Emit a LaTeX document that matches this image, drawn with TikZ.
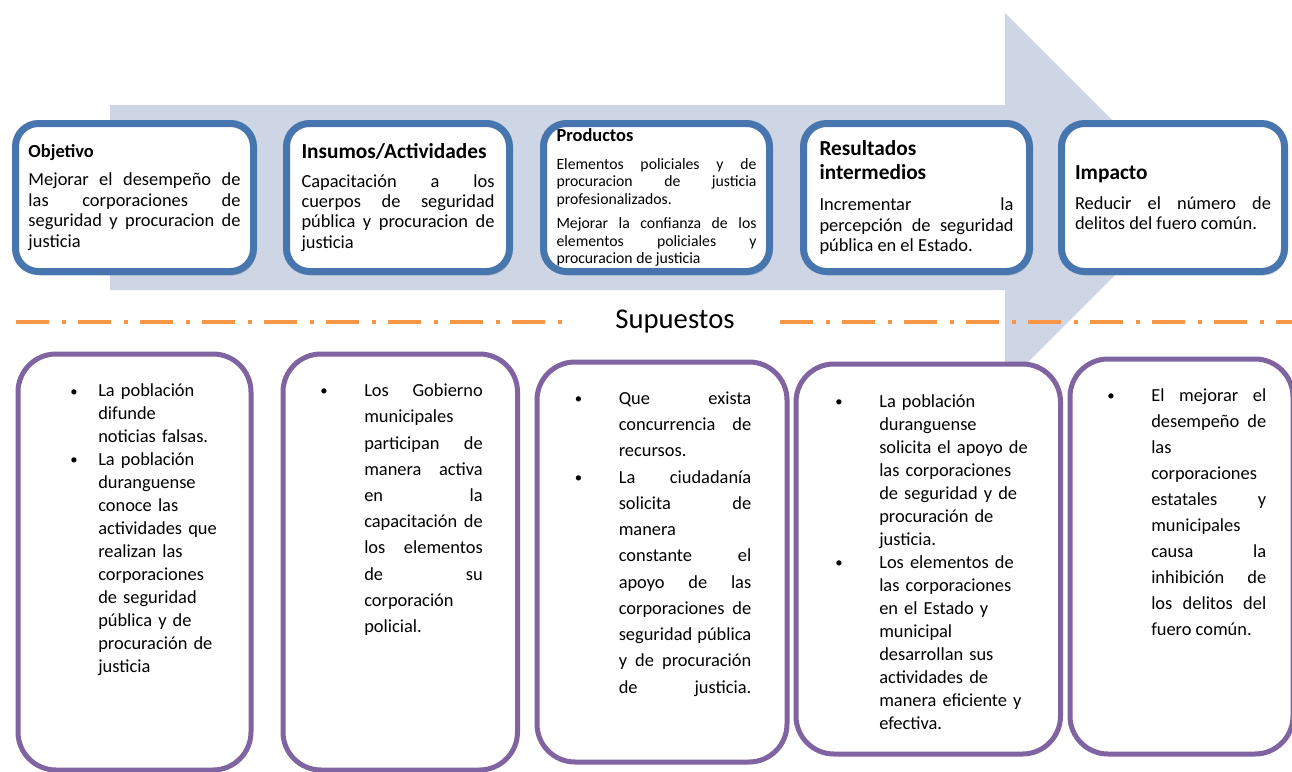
\documentclass[tikz,border=0pt]{standalone}
\usepackage{fontspec}
\setmainfont{Carlito}
\usepackage{tikz}
\usetikzlibrary{shadows}
\usepackage{xcolor}
\definecolor{boxblue}{HTML}{4775AE}
\definecolor{boxpurple}{HTML}{8064A2}
\definecolor{lineorange}{HTML}{F79646}
\definecolor{arrowgray}{HTML}{CED6E6}
\newlength\pxu
\setlength\pxu{0.75pt}
\newcommand\bul[1][33pt]{\leavevmode\llap{\makebox[#1][l]{\raisebox{0.6pt}{\scalebox{0.8}{\textbullet}}}}}

\begin{document}
\begin{tikzpicture}[
  x=0.75pt, y=-0.75pt,
  topbox/.style={
    draw=boxblue,
    fill=white,
    line width=7\pxu,
    rounded corners=23\pxu,
    minimum height=148\pxu,
    inner sep=0pt,
    align=justify,
    font=\fontsize{13.8pt}{15.3pt}\selectfont,
    drop shadow={shadow xshift=1.5pt, shadow yshift=-3pt, opacity=0.3}
  },
  botbox/.style={
    draw=boxpurple,
    fill=white,
    line width=5\pxu,
    rounded corners=38\pxu,
    inner sep=0pt,
    anchor=north west
  },
  bultext/.style={
    anchor=north west,
    inner sep=0pt
  },
  supline/.style={
    draw=lineorange,
    line width=4\pxu,
    dash pattern=on 24.75pt off 9.75pt on 3pt off 9pt
  }
]
  \useasboundingbox (0,0) rectangle (1292,771);

  % -------------------------------------------------------------
  % BACKGROUND ARROW
  % -------------------------------------------------------------
  \fill[arrowgray] (110,105) -- (1005,105) -- (1005,13) -- (1191,199)
    -- (1005,385) -- (1005,290) -- (110,290) -- cycle;

  % -------------------------------------------------------------
  % TOP ROW: CHAIN OF RESULTS
  % -------------------------------------------------------------

  % Objetivo
  \node[topbox, minimum width=238\pxu, text width=212\pxu] (obj) at (134.5,197.5) {
    {\bfseries Objetivo\par}\vspace{6pt}
    Mejorar el desempeño de\linebreak las corporaciones de\linebreak
    seguridad y procuracion de\linebreak justicia
  };

  % Insumos/Actividades
  \node[topbox, minimum width=223\pxu, text width=193\pxu] (ins) at (398,197.5) {
    {\fontsize{16pt}{18pt}\selectfont\bfseries Insumos/Actividades\par}\vspace{6.2pt}
    Capacitación a los\linebreak cuerpos de seguridad\linebreak
    pública y procuracion de\linebreak justicia
  };

  % Productos
  \node[topbox, minimum width=226\pxu, text width=200\pxu] (prod) at (656.5,197.5) {
    {\bfseries Productos\par}\vspace{7.7pt}
    {\fontsize{11.8pt}{13.05pt}\selectfont
    Elementos policiales y de\linebreak procuracion de justicia\linebreak
    profesionalizados.\par}\vspace{5.2pt}
    {\fontsize{11.8pt}{13.05pt}\selectfont
    Mejorar la confianza de los\linebreak elementos policiales y\linebreak
    procuracion de justicia\par}
  };

  % Resultados intermedios
  \node[topbox, minimum width=226\pxu, text width=194\pxu] (res) at (916.5,197.5) {
    {\fontsize{16pt}{18pt}\selectfont\bfseries Resultados\\intermedios\par}\vspace{8.5pt}
    Incrementar la\linebreak percepción de seguridad\linebreak
    pública en el Estado.
  };

  % Impacto
  \node[topbox, minimum width=223\pxu, text width=196\pxu] (imp) at (1173,197.5) {
    {\fontsize{16pt}{18pt}\selectfont\bfseries Impacto\par}\vspace{7.2pt}
    Reducir el número de\linebreak delitos del fuero común.
  };

  % -------------------------------------------------------------
  % SUPUESTOS DIVIDER
  % -------------------------------------------------------------
  \node[font=\fontsize{21.5pt}{24pt}\selectfont, anchor=base, inner sep=0pt] (sup) at (675,328) {Supuestos};
  \coordinate (dl1) at (16,322);
  \coordinate (dl2) at (566,322);
  \coordinate (dr1) at (780,322);
  \coordinate (dr2) at (1292,322);
  \draw[supline] (dl1) -- (dl2);
  \draw[supline] (dr1) -- (dr2);

  % -------------------------------------------------------------
  % BOTTOM ROW: ASSUMPTIONS
  % -------------------------------------------------------------
  \node[botbox, minimum width=233\pxu, minimum height=416\pxu] (s1) at (15.5,351.5) {};
  \node[botbox, minimum width=234.5\pxu, minimum height=416\pxu] (s2) at (280.5,351.5) {};
  \node[botbox, minimum width=250\pxu, minimum height=400\pxu] (s3) at (534.5,359.5) {};
  \node[botbox, minimum width=264.5\pxu, minimum height=390\pxu] (s4) at (793.5,361.5) {};
  \node[botbox, minimum width=223\pxu, minimum height=395\pxu] (s5) at (1067.5,356.5) {};

  % Assumption texts
  \node[bultext, text width=135\pxu, align=left, font=\fontsize{13.8pt}{17.2pt}\selectfont] (t1) at (98,380.5) {\strut
    \bul[21pt]La población\\ difunde\\ noticias falsas.\\
    \bul[21pt]La población\\ duranguense\\ conoce las\\ actividades que\\
    realizan las\\ corporaciones\\ de seguridad\\ pública y de\\
    procuración de\\ justicia
  };

  \node[bultext, text width=118.5\pxu, align=justify, font=\fontsize{13.8pt}{19.65pt}\selectfont] (t2) at (364,378.1) {\strut
    \bul Los Gobierno\linebreak municipales\linebreak participan de\linebreak
    manera activa\linebreak en la\linebreak capacitación de\linebreak
    los elementos\linebreak de su\linebreak corporación\linebreak policial.
  };

  \node[bultext, text width=132.5\pxu, align=justify, font=\fontsize{13.8pt}{19.7pt}\selectfont] (t3) at (618.5,385.6) {\strut
    \bul Que exista\linebreak concurrencia de\linebreak recursos.\par
    \bul La ciudadanía\linebreak solicita de\linebreak manera\linebreak
    constante el\linebreak apoyo de las\linebreak corporaciones de\linebreak
    seguridad pública\linebreak y de procuración\linebreak de\hfill justicia.
  };

  \node[bultext, text width=150\pxu, align=left, font=\fontsize{13.8pt}{17.25pt}\selectfont] (t4) at (879,390.7) {\strut
    \bul La población\\ duranguense\\ solicita el apoyo de\\ las corporaciones\\
    de seguridad y de\\ procuración de\\ justicia.\\
    \bul Los elementos de\\ las corporaciones\\ en el Estado y\\ municipal\\
    desarrollan sus\\ actividades de\\ manera eficiente y\\ efectiva.
  };

  \node[bultext, text width=115\pxu, align=justify, font=\fontsize{13.8pt}{19.5pt}\selectfont] (t5) at (1151,382.8) {\strut
    \bul El mejorar el\linebreak desempeño de\linebreak las\linebreak
    corporaciones\linebreak estatales y\linebreak municipales\linebreak
    causa la\linebreak inhibición de\linebreak los delitos del\linebreak fuero común.
  };

\end{tikzpicture}
\end{document}
